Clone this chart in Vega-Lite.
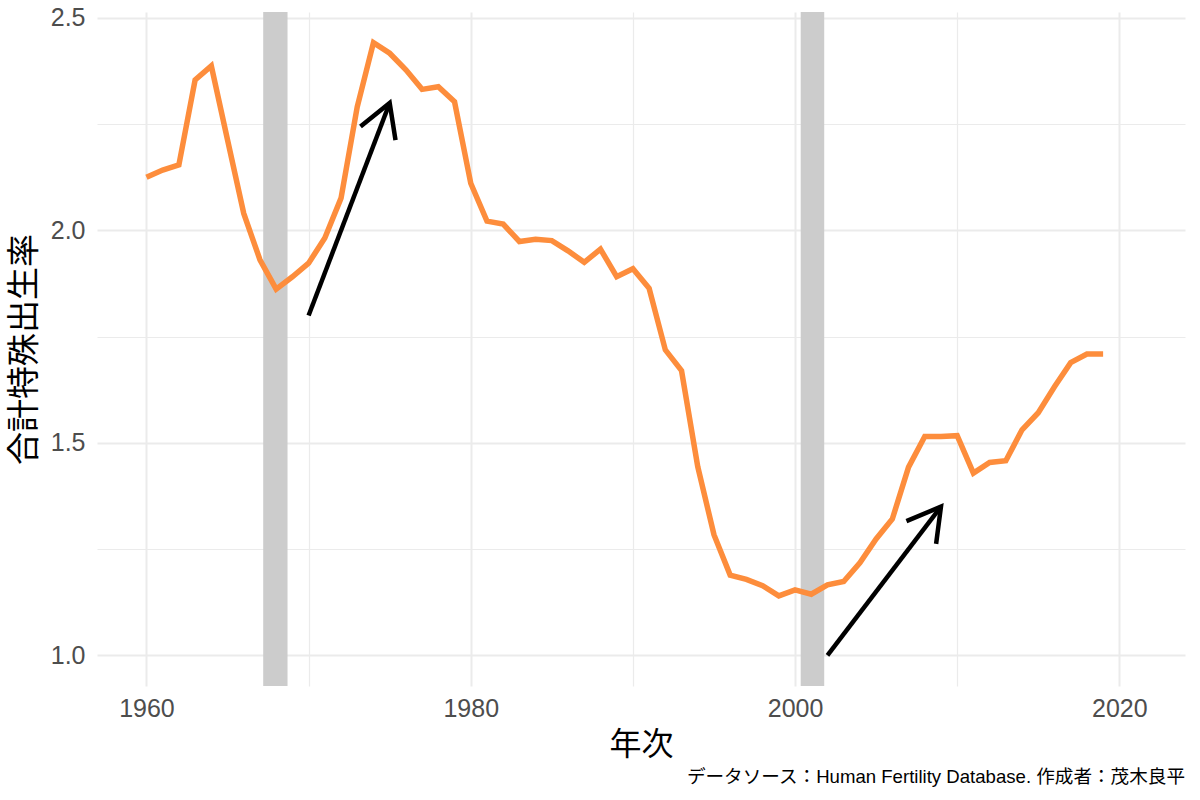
{
  "$schema": "https://vega.github.io/schema/vega-lite/v6.json",
  "width": 1088,
  "height": 674,
  "autosize": {"type": "none"},
  "padding": {"left": 97, "top": 12, "right": 15, "bottom": 114},
  "background": "white",
  "config": {
    "view": {"stroke": null},
    "font": "Liberation Sans, 'Noto Sans CJK JP', sans-serif"
  },
  "title": {
    "text": "データソース：Human Fertility Database. 作成者：茂木良平",
    "orient": "bottom",
    "anchor": "end",
    "fontSize": 18.6,
    "fontWeight": "normal",
    "color": "#000000",
    "offset": 8,
    "font": "Liberation Sans, 'Noto Sans CJK JP', sans-serif"
  },
  "datasets": {
    "tfr": [
      {"year": 1960, "tfr": 2.125}, {"year": 1961, "tfr": 2.142}, {"year": 1962, "tfr": 2.154},
      {"year": 1963, "tfr": 2.354}, {"year": 1964, "tfr": 2.387}, {"year": 1965, "tfr": 2.213},
      {"year": 1966, "tfr": 2.040}, {"year": 1967, "tfr": 1.931}, {"year": 1968, "tfr": 1.862},
      {"year": 1969, "tfr": 1.891}, {"year": 1970, "tfr": 1.923}, {"year": 1971, "tfr": 1.982},
      {"year": 1972, "tfr": 2.076}, {"year": 1973, "tfr": 2.291}, {"year": 1974, "tfr": 2.442},
      {"year": 1975, "tfr": 2.417}, {"year": 1976, "tfr": 2.378}, {"year": 1977, "tfr": 2.332},
      {"year": 1978, "tfr": 2.338}, {"year": 1979, "tfr": 2.303}, {"year": 1980, "tfr": 2.111},
      {"year": 1981, "tfr": 2.022}, {"year": 1982, "tfr": 2.015}, {"year": 1983, "tfr": 1.974},
      {"year": 1984, "tfr": 1.979}, {"year": 1985, "tfr": 1.976}, {"year": 1986, "tfr": 1.952},
      {"year": 1987, "tfr": 1.925}, {"year": 1988, "tfr": 1.956}, {"year": 1989, "tfr": 1.891},
      {"year": 1990, "tfr": 1.910}, {"year": 1991, "tfr": 1.864}, {"year": 1992, "tfr": 1.719},
      {"year": 1993, "tfr": 1.670}, {"year": 1994, "tfr": 1.444}, {"year": 1995, "tfr": 1.284},
      {"year": 1996, "tfr": 1.189}, {"year": 1997, "tfr": 1.179}, {"year": 1998, "tfr": 1.164},
      {"year": 1999, "tfr": 1.140}, {"year": 2000, "tfr": 1.154}, {"year": 2001, "tfr": 1.144},
      {"year": 2002, "tfr": 1.166}, {"year": 2003, "tfr": 1.174}, {"year": 2004, "tfr": 1.218},
      {"year": 2005, "tfr": 1.274}, {"year": 2006, "tfr": 1.321}, {"year": 2007, "tfr": 1.443},
      {"year": 2008, "tfr": 1.515}, {"year": 2009, "tfr": 1.515}, {"year": 2010, "tfr": 1.517},
      {"year": 2011, "tfr": 1.429}, {"year": 2012, "tfr": 1.454}, {"year": 2013, "tfr": 1.458},
      {"year": 2014, "tfr": 1.531}, {"year": 2015, "tfr": 1.571}, {"year": 2016, "tfr": 1.632},
      {"year": 2017, "tfr": 1.689}, {"year": 2018, "tfr": 1.709}, {"year": 2019, "tfr": 1.709}
    ],
    "bands": [
      {"start": 1967.2, "end": 1968.7},
      {"start": 2000.35, "end": 2001.8}
    ],
    "shafts": [
      {"x": 1970, "y": 1.8, "xend": 1975, "yend": 2.3},
      {"x": 2002, "y": 1.0, "xend": 2009, "yend": 1.35}
    ],
    "heads": [
      {"arrow": "a", "order": 1, "x": 1973.20, "y": 2.2445},
      {"arrow": "a", "order": 2, "x": 1975.0, "y": 2.3},
      {"arrow": "a", "order": 3, "x": 1975.36, "y": 2.2127},
      {"arrow": "b", "order": 1, "x": 2006.87, "y": 1.316},
      {"arrow": "b", "order": 2, "x": 2009.0, "y": 1.35},
      {"arrow": "b", "order": 3, "x": 2008.70, "y": 1.2625}
    ]
  },
  "layer": [
    {
      "data": {"name": "tfr"},
      "mark": {"type": "line", "opacity": 0},
      "encoding": {
        "x": {
          "field": "year", "type": "quantitative",
          "scale": {"domain": [1956.95, 2024.05], "nice": false, "zero": false},
          "axis": {
            "title": "年次",
            "values": [1960, 1970, 1980, 1990, 2000, 2010, 2020],
            "labelExpr": "datum.value % 20 == 0 ? format(datum.value, 'd') : ''",
            "domain": false, "ticks": false, "tickSize": 0,
            "labelFontSize": 25, "labelColor": "#4D4D4D", "labelPadding": 10,
            "labelFont": "Liberation Sans, sans-serif",
            "titleFontSize": 32, "titleColor": "#000000", "titleFontWeight": "normal",
            "titlePadding": 8,
            "titleFont": "Liberation Sans, 'Noto Sans CJK JP', sans-serif",
            "grid": true, "gridColor": "#EBEBEB",
            "gridWidth": {"condition": {"test": "datum.value % 20 == 0", "value": 2}, "value": 1.2}
          }
        },
        "y": {
          "field": "tfr", "type": "quantitative",
          "scale": {"domain": [0.928, 2.514], "nice": false, "zero": false},
          "axis": {
            "title": "合計特殊出生率",
            "values": [1.0, 1.25, 1.5, 1.75, 2.0, 2.25, 2.5],
            "labelExpr": "(datum.value * 2) % 1 == 0 ? format(datum.value, '.1f') : ''",
            "domain": false, "ticks": false, "tickSize": 0,
            "labelFontSize": 25, "labelColor": "#4D4D4D", "labelPadding": 12,
            "labelFont": "Liberation Sans, sans-serif",
            "titleFontSize": 33, "titleColor": "#000000", "titleFontWeight": "normal",
            "titlePadding": 9,
            "titleFont": "Liberation Sans, 'Noto Sans CJK JP', sans-serif",
            "grid": true, "gridColor": "#EBEBEB",
            "gridWidth": {"condition": {"test": "(datum.value * 2) % 1 == 0", "value": 2}, "value": 1.2}
          }
        }
      }
    },
    {
      "data": {"name": "bands"},
      "mark": {"type": "rect", "color": "#CCCCCC"},
      "encoding": {
        "x": {"field": "start", "type": "quantitative"},
        "x2": {"field": "end"}
      }
    },
    {
      "data": {"name": "tfr"},
      "mark": {"type": "line", "color": "#FD8D3C", "strokeWidth": 5.5, "strokeJoin": "miter"},
      "encoding": {
        "x": {"field": "year", "type": "quantitative"},
        "y": {"field": "tfr", "type": "quantitative"}
      }
    },
    {
      "data": {"name": "shafts"},
      "mark": {"type": "rule", "color": "#000000", "strokeWidth": 4.5},
      "encoding": {
        "x": {"field": "x", "type": "quantitative"},
        "y": {"field": "y", "type": "quantitative"},
        "x2": {"field": "xend"},
        "y2": {"field": "yend"}
      }
    },
    {
      "data": {"name": "heads"},
      "mark": {"type": "line", "color": "#000000", "strokeWidth": 4.5, "strokeJoin": "miter"},
      "encoding": {
        "x": {"field": "x", "type": "quantitative"},
        "y": {"field": "y", "type": "quantitative"},
        "detail": {"field": "arrow", "type": "nominal"},
        "order": {"field": "order", "type": "quantitative"}
      }
    }
  ]
}
